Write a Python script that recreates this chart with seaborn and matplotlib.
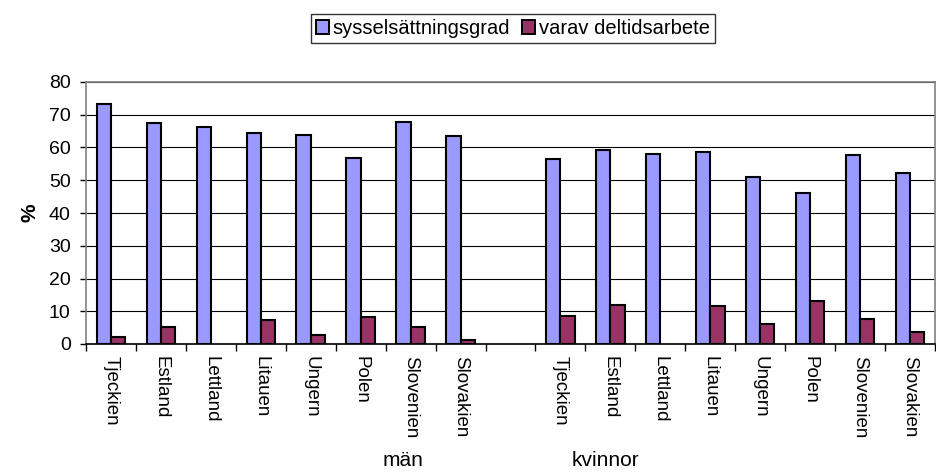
import numpy as np
import pandas as pd
import matplotlib
matplotlib.use("Agg")
import matplotlib.pyplot as plt
import seaborn as sns
from matplotlib.ticker import FixedLocator, MultipleLocator
from matplotlib.patches import Patch

countries = ["Tjeckien", "Estland", "Lettland", "Litauen", "Ungern", "Polen", "Slovenien", "Slovakien"]
groups = ["män", "kvinnor"]
series = ["sysselsättningsgrad", "varav deltidsarbete"]

men_employment = [73.3, 67.5, 66.3, 64.3, 63.7, 56.7, 67.7, 63.4]
men_parttime = [2.2, 5.3, np.nan, 7.4, 2.7, 8.1, 5.1, 1.2]
women_employment = [56.5, 59.1, 58.0, 58.6, 51.1, 46.2, 57.7, 52.3]
women_parttime = [8.5, 11.8, np.nan, 11.7, 6.2, 13.2, 7.5, 3.8]

colors = ["#9999FF", "#993366"]

rows = []
for g, emp, pt in [("män", men_employment, men_parttime), ("kvinnor", women_employment, women_parttime)]:
    for c, e, p in zip(countries, emp, pt):
        rows.append({"key": f"{g}|{c}", "serie": series[0], "value": e})
        rows.append({"key": f"{g}|{c}", "serie": series[1], "value": p})
df = pd.DataFrame(rows)

order = [f"män|{c}" for c in countries] + ["gap"] + [f"kvinnor|{c}" for c in countries]
labels = countries + [""] + countries

plt.rcParams["font.family"] = ["Liberation Sans", "DejaVu Sans"]

fig = plt.figure(figsize=(9.37, 4.74), dpi=100)
ax = fig.add_axes([86/937, 1 - 344/474, (935 - 86)/937, (344 - 82)/474])

sns.barplot(data=df.dropna(), x="key", y="value", hue="serie", order=order,
            hue_order=series, palette=colors, width=0.572, dodge=True,
            edgecolor="black", linewidth=1.5, ax=ax, legend=False, errorbar=None,
            saturation=1)

ax.set_xlim(-0.5, len(order) - 0.5)
ax.set_ylim(0, 80)
ax.yaxis.set_major_locator(MultipleLocator(10))
ax.set_axisbelow(True)
ax.grid(axis="y", color="black", linewidth=0.8)
ax.grid(axis="x", visible=False)

ax.set_xticks(range(len(order)))
ax.set_xticklabels(labels, rotation=270, fontsize=13.5, va="top", ha="center")
ax.tick_params(axis="x", which="major", length=0, pad=9)
ax.xaxis.set_minor_locator(FixedLocator(np.arange(-0.5, len(order), 1.0)))
ax.tick_params(axis="x", which="minor", length=5, width=1, color="black", direction="out")
ax.tick_params(axis="y", labelsize=14, length=4, width=1, color="black", direction="out", pad=7)

for s in ["top", "right", "left"]:
    ax.spines[s].set_color("#808080")
    ax.spines[s].set_linewidth(1.2)
ax.spines["bottom"].set_color("black")
ax.spines["bottom"].set_linewidth(1.2)

ax.set_xlabel("")
ax.set_ylabel("%", fontsize=15, fontweight="bold", labelpad=7)

handles = [Patch(facecolor=colors[i], edgecolor="black", linewidth=1.4, label=series[i]) for i in range(2)]
leg = fig.legend(handles=handles, loc="upper center", bbox_to_anchor=(513/937, 1 - 14/474),
                 ncol=2, fontsize=14.5, frameon=True, fancybox=False, edgecolor="black",
                 handlelength=0.65, handleheight=0.75, handletextpad=0.2, columnspacing=0.6,
                 borderpad=0.25, borderaxespad=0)
leg.get_frame().set_linewidth(1.0)

fig.text(403/937, 1 - 461/474, groups[0], fontsize=15, ha="center", va="center")
fig.text(605/937, 1 - 461/474, groups[1], fontsize=15, ha="center", va="center")

fig.savefig("out.png", dpi=100)
